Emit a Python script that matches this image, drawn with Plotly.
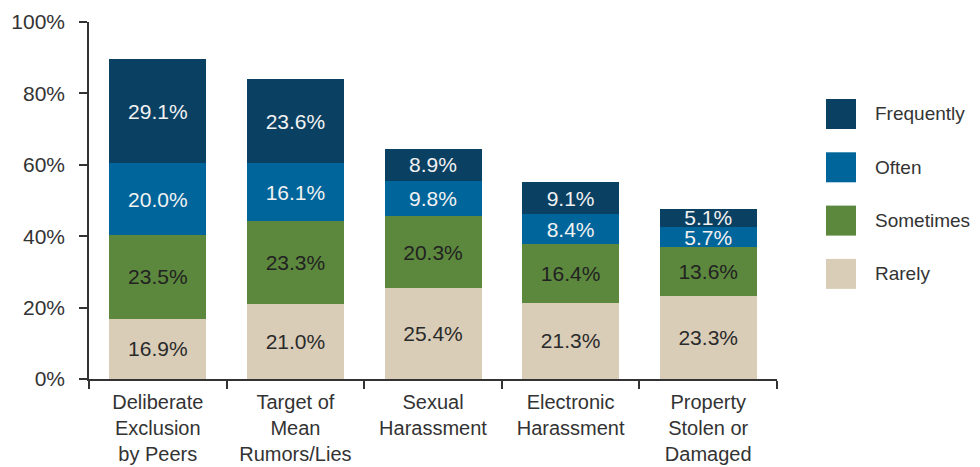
import plotly.graph_objects as go

categories = [
    "Deliberate<br>Exclusion<br>by Peers",
    "Target of<br>Mean<br>Rumors/Lies",
    "Sexual<br>Harassment",
    "Electronic<br>Harassment",
    "Property<br>Stolen or<br>Damaged",
]
rarely = [16.9, 21.0, 25.4, 21.3, 23.3]
sometimes = [23.5, 23.3, 20.3, 16.4, 13.6]
often = [20.0, 16.1, 9.8, 8.4, 5.7]
frequently = [29.1, 23.6, 8.9, 9.1, 5.1]

series = [
    ("Rarely", rarely, "#d9cdb8", "#2a2a2a"),
    ("Sometimes", sometimes, "#5c883d", "#222222"),
    ("Often", often, "#00659a", "#f2f2f2"),
    ("Frequently", frequently, "#0a4163", "#f2f2f2"),
]

FONT = "Liberation Sans, Arial, sans-serif"

fig = go.Figure()
for name, vals, col, tcol in series:
    fig.add_trace(go.Bar(
        name=name, x=categories, y=vals,
        marker=dict(color=col, line=dict(width=0)),
        texttemplate="%{y:.1f}%", textposition="inside",
        insidetextanchor="middle", constraintext="none",
        textfont=dict(size=21, color=tcol, family=FONT),
        showlegend=False,
    ))

# the page body has an 8px margin, so the figure is a bit smaller
PAD = 8
FW, FH = 980 - PAD, 467 - PAD
L, R, T, B = 89 - PAD, 203, 22 - PAD, 88
W, H = FW - L - R, FH - T - B

# legend drawn by hand: big square swatches like the original
legend_order = ["Frequently", "Often", "Sometimes", "Rarely"]
colors = {s[0]: s[2] for s in series}
for i, name in enumerate(legend_order):
    top = 99 + i * 53.3 - PAD
    x0 = (826 - PAD - L) / W
    x1 = (856 - PAD - L) / W
    y0 = (FH - B - top) / H
    y1 = (FH - B - top - 30) / H
    fig.add_shape(type="rect", xref="paper", yref="paper",
                  x0=x0, x1=x1, y0=y1, y1=y0,
                  fillcolor=colors[name], line=dict(width=0))
    fig.add_annotation(xref="paper", yref="paper", x=(873 - PAD - L) / W,
                       y=(y0 + y1) / 2, text=name, showarrow=False,
                       xanchor="left", yanchor="middle",
                       font=dict(size=19, color="#333333", family=FONT))

fig.update_layout(
    barmode="stack", bargap=0.295,
    width=FW, height=FH,
    margin=dict(l=L, r=R, t=T, b=B, autoexpand=False),
    plot_bgcolor="white", paper_bgcolor="white",
    font=dict(family=FONT, size=20, color="#333333"),
)
fig.update_yaxes(
    range=[0, 100], tickvals=[0, 20, 40, 60, 80, 100],
    ticktext=["0%", "20%", "40%", "60%", "80%", "100%"],
    showgrid=False, zeroline=False, showline=True, automargin=False,
    linecolor="#333333", linewidth=1.5,
    ticks="outside", ticklen=8, tickcolor="#333333", tickwidth=1.5,
    ticklabelstandoff=10,
    tickfont=dict(size=21, color="#333333"),
)
fig.update_xaxes(
    showgrid=False, showline=True, automargin=False,
    linecolor="#333333", linewidth=1.5,
    ticks="outside", tickson="boundaries", ticklen=8,
    tickcolor="#333333", tickwidth=1.5,
    ticklabelstandoff=4,
    tickfont=dict(size=20, color="#333333"),
)

fig.write_html("out.html")
